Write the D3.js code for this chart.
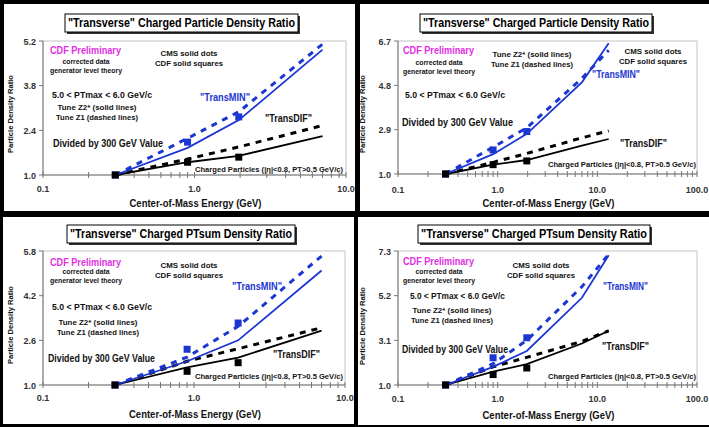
<!DOCTYPE html>
<html>
<head>
<meta charset="utf-8">
<script src="https://cdn.jsdelivr.net/npm/d3@7"></script>
<style>
  body { margin: 0; background: #fff; }
  svg { display: block; font-family: "Liberation Sans", Arial, sans-serif; font-weight: bold; }
</style>
</head>
<body>
<div id="chart"></div>
<script>
// energies (axis is labelled GeV, values as drawn on the slides)
const energies7 = [0.3, 0.9, 1.96, 7.0];
const energies13 = [0.3, 0.9, 1.96, 7.0, 13.0];
const cdfEnergies = [0.3, 0.9, 1.96];

// "Transverse" charged particle density ratio (top row)
const nchgMinZ2 = [1.0, 1.85, 2.72, 4.93, 6.6];
const nchgMinZ1 = [1.0, 2.15, 2.98, 5.1, 6.3];
const nchgDifZ2 = [1.0, 1.40, 1.60, 2.22, 2.5];
const nchgDifZ1 = [1.0, 1.50, 1.88, 2.55, 2.85];
const nchgMinData = [1.0, 2.03, 2.82];
const nchgDifData = [1.0, 1.40, 1.56];

// "Transverse" charged PTsum density ratio (bottom row)
const ptsumMinZ2 = [1.0, 1.85, 2.6, 5.1, 7.1];
const ptsumMinZ1 = [1.0, 2.0, 3.1, 5.62, 7.15];
const ptsumDifZ2 = [1.0, 1.63, 1.98, 2.95, 3.55];
const ptsumDifZ1 = [1.0, 1.85, 2.3, 3.05, 3.55];
const ptsumMinData = [1.0, 2.28, 3.22];
const ptsumDifData = [1.0, 1.49, 1.8];

// tick labels
const yTicksTL = [1.0, 2.4, 3.8, 5.2];
const yTicksTR = [1.0, 2.9, 4.8, 6.7];
const yTicksBL = [1.0, 2.6, 4.2, 5.8];
const yTicksBR = [1.0, 3.1, 5.2, 7.3];
const xTicksShort = [0.1, 1.0, 10.0];
const xTicksLong = [0.1, 1.0, 10.0, 100.0];

const BLUE = "#1c36d2";
const MAGENTA = "#e22ee2";

const W = 709, H = 427;
const svg = d3.select("#chart").append("svg")
    .attr("width", W)
    .attr("height", H);

// black slide borders
svg.append("rect").attr("width", W).attr("height", H).attr("fill", "#000");

function label(g, s, x, y, o) {
    o = o || {};
    let t = g.append("text")
        .attr("x", x)
        .attr("y", y)
        .attr("font-size", o.size || 8)
        .attr("fill", o.color || "#111")
        .attr("text-anchor", o.anchor || "start")
        .text(s);
    if (o.width) {
        t.attr("textLength", o.width).attr("lengthAdjust", "spacingAndGlyphs");
    }
    return t;
}

function drawPanel(p) {
    let g = svg.append("g");

    g.append("rect")
        .attr("x", p.frame[0]).attr("y", p.frame[1])
        .attr("width", p.frame[2]).attr("height", p.frame[3])
        .attr("fill", "#fff");

    let x = d3.scaleLog().domain([0.1, p.xMax]).range([p.left, p.right]);
    let y = d3.scaleLinear().domain([1.0, p.yMax]).range([p.bottom, p.top]);

    // plot frame
    g.append("rect")
        .attr("x", p.left).attr("y", p.top)
        .attr("width", p.right - p.left).attr("height", p.bottom - p.top)
        .attr("fill", "none")
        .attr("stroke", "#c4c4c4")
        .attr("stroke-width", 1);

    // y axis
    g.append("line")
        .attr("x1", p.left).attr("x2", p.left)
        .attr("y1", p.top).attr("y2", p.bottom)
        .attr("stroke", "#777");
    g.selectAll(".ytick").data(p.yTicks).enter().append("line")
        .attr("x1", p.left - 4).attr("x2", p.left)
        .attr("y1", d => y(d)).attr("y2", d => y(d))
        .attr("stroke", "#777");
    p.yTicks.forEach(d => {
        label(g, d3.format(".1f")(d), p.left - 7, y(d) + 3.5, {size: 9, anchor: "end", color: "#333"});
    });

    // x axis, log minor ticks
    g.append("line")
        .attr("x1", p.left).attr("x2", p.right)
        .attr("y1", p.bottom).attr("y2", p.bottom)
        .attr("stroke", "#777");
    g.selectAll(".xtick").data(x.ticks()).enter().append("line")
        .attr("x1", d => x(d)).attr("x2", d => x(d))
        .attr("y1", p.bottom - 3).attr("y2", p.bottom + 3)
        .attr("stroke", "#777");
    p.xTicks.forEach(d => {
        label(g, d3.format(".1f")(d), x(d), p.xLabelY, {size: 9, anchor: "middle", color: "#333"});
    });

    // theory curves
    let line = d3.line().x(d => x(d[0])).y(d => y(d[1]));
    g.append("path").datum(d3.zip(p.energies, p.difZ2))
        .attr("d", line).attr("fill", "none")
        .attr("stroke", "#000").attr("stroke-width", 1.8);
    g.append("path").datum(d3.zip(p.energies, p.difZ1))
        .attr("d", line).attr("fill", "none")
        .attr("stroke", "#000").attr("stroke-width", 3)
        .attr("stroke-dasharray", "6,6");
    g.append("path").datum(d3.zip(p.energies, p.minZ2))
        .attr("d", line).attr("fill", "none")
        .attr("stroke", BLUE).attr("stroke-width", 1.8);
    g.append("path").datum(d3.zip(p.energies, p.minZ1))
        .attr("d", line).attr("fill", "none")
        .attr("stroke", BLUE).attr("stroke-width", 3)
        .attr("stroke-dasharray", "6,6");

    // data squares
    g.selectAll(".minpt").data(d3.zip(cdfEnergies, p.minData)).enter().append("rect")
        .attr("x", d => x(d[0]) - 3.5).attr("y", d => y(d[1]) - 3.5)
        .attr("width", 7).attr("height", 7)
        .attr("fill", BLUE);
    g.selectAll(".difpt").data(d3.zip(cdfEnergies, p.difData)).enter().append("rect")
        .attr("x", d => x(d[0]) - 3.5).attr("y", d => y(d[1]) - 3.5)
        .attr("width", 7).attr("height", 7)
        .attr("fill", "#000");

    // title box with shadow
    let tb = p.titleBox;
    g.append("rect").attr("x", tb[0] + 2).attr("y", tb[1] + 2)
        .attr("width", tb[2]).attr("height", tb[3]).attr("fill", "#333");
    g.append("rect").attr("x", tb[0]).attr("y", tb[1])
        .attr("width", tb[2]).attr("height", tb[3])
        .attr("fill", "#fff").attr("stroke", "#000").attr("stroke-width", 1);
    label(g, p.title, tb[0] + tb[2] / 2, tb[1] + 13, {size: 12, anchor: "middle", width: tb[2] - 6, color: "#000"});

    // axis titles
    label(g, "Center-of-Mass Energy  (GeV)", (p.left + p.right) / 2 + 1, p.xTitleY, {size: 10, anchor: "middle", width: 132});
    label(g, "Particle Density Ratio", 0, 0, {size: 8, anchor: "middle", width: 78})
        .attr("transform", "translate(" + p.yTitleX + "," + p.yTitleY + ") rotate(-90)");

    // annotations
    p.notes.forEach(n => label(g, n[0], n[1], n[2], n[3]));
}

function notes(o) {
    // o holds the positions that differ between panels
    return [
        ["CDF Preliminary", o.cdf[0], o.cdf[1], {size: 10.5, color: MAGENTA, width: 71}],
        ["corrected data", o.corr[0], o.corr[1], {size: 7.5, anchor: "middle", width: 47}],
        ["generator level theory", o.corr[0], o.corr[1] + 9, {size: 7.5, anchor: "middle", width: 72}],
        ["CMS solid dots", o.cms[0], o.cms[1], {size: 7.5, anchor: "middle", width: 57}],
        ["CDF solid squares", o.cms[0], o.cms[1] + 10, {size: 7.5, anchor: "middle", width: 68}],
        ["5.0 < PTmax < 6.0 GeV/c", o.pt[0], o.pt[1], {size: 9, width: o.pt[2]}],
        ["Tune Z2* (solid lines)", o.tune[0], o.tune[1], {size: 7.5, anchor: "middle", width: 79}],
        ["Tune Z1 (dashed lines)", o.tune[0], o.tune[1] + 10, {size: 7.5, anchor: "middle", width: 82}],
        ["Divided by 300 GeV Value", o.div[0], o.div[1], {size: 10, width: o.div[2]}],
        ["\"TransMIN\"", o.min[0], o.min[1], {size: 10, color: BLUE, width: o.min[2]}],
        ["\"TransDIF\"", o.dif[0], o.dif[1], {size: 10, width: 47}],
        ["Charged Particles (|\u03b7|<0.8, PT>0.5 GeV/c)", o.chg[0], o.chg[1], {size: 7.5, width: 148}]
    ];
}

drawPanel({
    frame: [4, 4, 351, 207],
    left: 43, right: 346, top: 41, bottom: 175,
    xMax: 10, yMax: 5.2, yTicks: yTicksTL, xTicks: xTicksShort, xLabelY: 192,
    energies: energies7,
    minZ2: nchgMinZ2, minZ1: nchgMinZ1, difZ2: nchgDifZ2, difZ1: nchgDifZ1,
    minData: nchgMinData, difData: nchgDifData,
    title: "\"Transverse\" Charged Particle Density Ratio",
    titleBox: [65, 14, 233, 18],
    xTitleY: 207, yTitleX: 13, yTitleY: 114,
    notes: notes({
        cdf: [50, 54], corr: [86, 64], cms: [189, 56], pt: [52, 97.5, 100],
        tune: [97, 110], div: [53, 147, 110], min: [200, 101, 50],
        dif: [265, 122], chg: [195, 172]
    })
});

drawPanel({
    frame: [360, 4, 349, 207],
    left: 398, right: 697, top: 41, bottom: 174,
    xMax: 100, yMax: 6.7, yTicks: yTicksTR, xTicks: xTicksLong, xLabelY: 192.5,
    energies: energies13,
    minZ2: nchgMinZ2, minZ1: nchgMinZ1, difZ2: nchgDifZ2, difZ1: nchgDifZ1,
    minData: nchgMinData, difData: nchgDifData,
    title: "\"Transverse\" Charged Particle Density Ratio",
    titleBox: [420, 14, 232, 18],
    xTitleY: 207, yTitleX: 365, yTitleY: 114,
    notes: notes({
        cdf: [403, 54], corr: [439, 65], cms: [653, 53.5], pt: [405, 97.5, 100],
        tune: [532, 56.5], div: [402, 125.5, 111], min: [592, 77.5, 48],
        dif: [620, 146.5], chg: [548, 166.5]
    })
});

drawPanel({
    frame: [3, 217, 351, 207],
    left: 43, right: 345, top: 251, bottom: 385,
    xMax: 10, yMax: 5.8, yTicks: yTicksBL, xTicks: xTicksShort, xLabelY: 400.5,
    energies: energies7,
    minZ2: ptsumMinZ2, minZ1: ptsumMinZ1, difZ2: ptsumDifZ2, difZ1: ptsumDifZ1,
    minData: ptsumMinData, difData: ptsumDifData,
    title: "\"Transverse\" Charged PTsum Density Ratio",
    titleBox: [67, 225, 228, 18],
    xTitleY: 417.5, yTitleX: 13, yTitleY: 325,
    notes: notes({
        cdf: [50, 266], corr: [86, 274], cms: [189, 268], pt: [52, 309.5, 100],
        tune: [98, 325], div: [48, 361.5, 107], min: [232, 289.5, 50],
        dif: [273, 357.5], chg: [195, 379]
    })
});

drawPanel({
    frame: [358, 217, 351, 208],
    left: 398, right: 697, top: 251, bottom: 385,
    xMax: 100, yMax: 7.3, yTicks: yTicksBR, xTicks: xTicksLong, xLabelY: 401.5,
    energies: energies13,
    minZ2: ptsumMinZ2, minZ1: ptsumMinZ1, difZ2: ptsumDifZ2, difZ1: ptsumDifZ1,
    minData: ptsumMinData, difData: ptsumDifData,
    title: "\"Transverse\" Charged PTsum Density Ratio",
    titleBox: [418, 225, 232, 18],
    xTitleY: 418.5, yTitleX: 365, yTitleY: 326,
    notes: notes({
        cdf: [403, 265], corr: [439, 274], cms: [541, 268], pt: [410, 298.5, 95],
        tune: [452, 313], div: [402, 352.5, 106], min: [603, 289.5, 45],
        dif: [602, 349.5], chg: [548, 379]
    })
});
</script>
</body>
</html>
